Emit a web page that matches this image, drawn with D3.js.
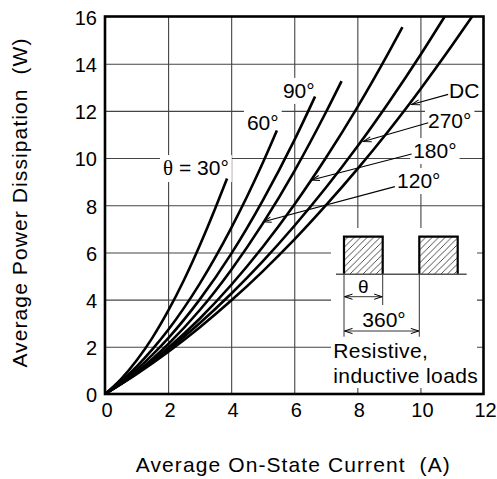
<!DOCTYPE html>
<html>
<head>
<meta charset="utf-8">
<script src="https://cdn.jsdelivr.net/npm/d3@7"></script>
<style>
  body { margin: 0; background: #fff; }
  svg { display: block; }
  text { font-family: "Liberation Sans", Arial, sans-serif; fill: #000; white-space: pre; }
</style>
</head>
<body>
<svg id="chart" width="497" height="479"></svg>
<script>
// tick labels
const currentTicks = [0, 2, 4, 6, 8, 10, 12];
const powerTicks = [0, 2, 4, 6, 8, 10, 12, 14, 16];

// conduction angles, left to right
const angleNames = ["30", "60", "90", "120", "180", "270", "DC"];

// [average current A, power W]
const curve30 = [[0, 0], [0.5, 0.62], [1, 1.42], [1.5, 2.38], [2, 3.52], [2.5, 4.82], [3, 6.28], [3.5, 7.88], [3.87, 9.13]];
const curve60 = [[0, 0], [0.5, 0.53], [1, 1.16], [1.5, 1.89], [2, 2.71], [2.5, 3.64], [3, 4.67], [3.5, 5.8], [4, 7.03], [4.5, 8.36], [5, 9.79], [5.45, 11.17]];
const curve90 = [[0, 0], [0.5, 0.48], [1, 1.03], [1.5, 1.66], [2, 2.36], [3, 4.0], [4, 5.94], [5, 8.2], [6, 10.75], [6.66, 12.61]];
const curve120 = [[0, 0], [0.5, 0.43], [1, 0.92], [2, 2.11], [3, 3.55], [4, 5.26], [5, 7.22], [6, 9.44], [7, 11.93], [7.5, 13.26]];
const curve180 = [[0, 0], [1, 0.88], [2, 1.95], [3, 3.19], [4, 4.62], [5, 6.23], [6, 8.02], [7, 10.0], [8, 12.15], [9, 14.49], [9.43, 15.55]];
const curve270 = [[0, 0], [1, 0.87], [2, 1.87], [3, 3.0], [4, 4.25], [5, 5.62], [6, 7.12], [7, 8.74], [8, 10.49], [9, 12.37], [10, 14.37], [10.77, 16]];
const curveDC = [[0, 0], [1, 0.84], [2, 1.78], [3, 2.82], [4, 3.96], [5, 5.2], [6, 6.54], [7, 7.99], [8, 9.53], [9, 11.17], [10, 12.92], [11, 14.77], [11.64, 16]];

const curves = [curve30, curve60, curve90, curve120, curve180, curve270, curveDC];

const svg = d3.select("#chart");
const plotLeft = 105, plotRight = 483.5, plotTop = 16.5, plotBottom = 394;

const x = d3.scaleLinear().domain([0, 12]).range([plotLeft, plotRight]);
const y = d3.scaleLinear().domain([0, 16]).range([plotBottom, plotTop]);

// grid
svg.append("g")
  .attr("transform", `translate(0,${plotBottom})`)
  .call(d3.axisBottom(x).tickValues(currentTicks.slice(1, -1)).tickSize(-(plotBottom - plotTop)).tickFormat(""))
  .call(g => g.select(".domain").remove())
  .call(g => g.selectAll("line").attr("stroke", "#444").attr("stroke-width", 1.1));

svg.append("g")
  .attr("transform", `translate(${plotLeft},0)`)
  .call(d3.axisLeft(y).tickValues(powerTicks.slice(1, -1)).tickSize(-(plotRight - plotLeft)).tickFormat(""))
  .call(g => g.select(".domain").remove())
  .call(g => g.selectAll("line").attr("stroke", "#444").attr("stroke-width", 1.1));

// tick labels
svg.append("g")
  .attr("transform", `translate(1.5,${plotBottom})`)
  .call(d3.axisBottom(x).tickValues(currentTicks).tickSize(0).tickPadding(8))
  .call(g => g.select(".domain").remove())
  .call(g => g.selectAll("text").attr("font-size", 20).attr("font-family", "Liberation Sans, Arial, sans-serif").attr("dy", "0.72em").attr("y", 8.5));

svg.append("g")
  .attr("transform", `translate(${plotLeft},1.5)`)
  .call(d3.axisLeft(y).tickValues(powerTicks).tickSize(0).tickPadding(8))
  .call(g => g.select(".domain").remove())
  .call(g => g.selectAll("text").attr("font-size", 20).attr("font-family", "Liberation Sans, Arial, sans-serif"));

// white ground for the inset
svg.append("rect")
  .attr("x", 331).attr("y", 228)
  .attr("width", 146).attr("height", 160)
  .attr("fill", "#fff");

const boxG = svg.append("g");
const curveG = svg.append("g");
const textG = svg.append("g");

// curves
const line = d3.line()
  .x(d => x(d[0]))
  .y(d => y(d[1]))
  .curve(d3.curveMonotoneX);

curveG.selectAll("path")
  .data(curves)
  .join("path")
  .attr("d", line)
  .attr("fill", "none")
  .attr("stroke", "#000")
  .attr("stroke-width", 2.6);

// curve labels with their white boxes
const labelSpots = [
  { name: angleNames[0], at: [1.84, 9.28], theta: true },
  { name: angleNames[1], at: [4.5, 11.19] },
  { name: angleNames[2], at: [5.64, 12.55] },
  { name: angleNames[6], at: [10.91, 12.55] },
  { name: angleNames[5], at: [10.24, 11.28] },
  { name: angleNames[4], at: [9.77, 10.0] },
  { name: angleNames[3], at: [9.26, 8.73] }
];

labelSpots.forEach(d => {
  const t = textG.append("text")
    .attr("x", x(d.at[0])).attr("y", y(d.at[1]))
    .attr("font-size", 21);
  if (d.theta) {
    t.append("tspan").attr("font-family", "Liberation Serif, DejaVu Serif, serif").text("\u03b8");
    t.append("tspan").text(" = ");
  }
  t.append("tspan").text(d.name === "DC" ? "DC" : d.name + "\u00b0");
  const b = t.node().getBBox();
  boxG.append("rect")
    .attr("x", b.x - 3).attr("y", b.y - 1)
    .attr("width", b.width + 6).attr("height", b.height + 3)
    .attr("fill", "#fff");
});

// arrow markers
const defs = svg.append("defs");
defs.append("marker")
  .attr("id", "head")
  .attr("viewBox", "-10 -5 12 10")
  .attr("refX", 0).attr("refY", 0)
  .attr("markerWidth", 12).attr("markerHeight", 10)
  .attr("markerUnits", "userSpaceOnUse")
  .attr("orient", "auto-start-reverse")
  .append("path")
  .attr("d", "M-8,-2.6L0,0L-8,2.6")
  .attr("fill", "none")
  .attr("stroke", "#000")
  .attr("stroke-width", 1);

// leader lines from labels to curves
const leaders = [
  [[10.88, 12.7], [9.72, 12.27]],
  [[10.25, 11.5], [8.19, 10.7]],
  [[9.72, 10.17], [6.55, 9.07]],
  [[9.19, 8.79], [5.02, 7.3]]
];
textG.selectAll("line")
  .data(leaders)
  .join("line")
  .attr("x1", d => x(d[0][0])).attr("y1", d => y(d[0][1]))
  .attr("x2", d => x(d[1][0])).attr("y2", d => y(d[1][1]))
  .attr("stroke", "#000")
  .attr("stroke-width", 1.1)
  .attr("marker-end", "url(#head)");

// inset: pulse train
const hatch = defs.append("pattern")
  .attr("id", "hatch")
  .attr("patternUnits", "userSpaceOnUse")
  .attr("width", 6.5).attr("height", 6.5);
hatch.append("path")
  .attr("d", "M-1,1L1,-1M0,6.5L6.5,0M5.5,7.5L7.5,5.5")
  .attr("stroke", "#222")
  .attr("stroke-width", 0.8);

const inset = svg.append("g");
const pulseTop = 236.7, pulseBase = 274.3;
[[344, 382.7], [419.3, 457.7]].forEach(p => {
  inset.append("rect")
    .attr("x", p[0]).attr("y", pulseTop)
    .attr("width", p[1] - p[0]).attr("height", pulseBase - pulseTop)
    .attr("fill", "url(#hatch)");
  inset.append("path")
    .attr("d", `M${p[0]},${pulseBase}V${pulseTop}H${p[1]}V${pulseBase}`)
    .attr("fill", "none")
    .attr("stroke", "#000")
    .attr("stroke-width", 2.2);
});
inset.append("line")
  .attr("x1", 336).attr("x2", 466.7)
  .attr("y1", pulseBase).attr("y2", pulseBase)
  .attr("stroke", "#555").attr("stroke-width", 1.6);

// dimension lines
const dim = inset.append("g").attr("stroke", "#333").attr("stroke-width", 1);
dim.append("line").attr("x1", 344).attr("x2", 344).attr("y1", pulseBase).attr("y2", 336.7);
dim.append("line").attr("x1", 382.7).attr("x2", 382.7).attr("y1", pulseBase).attr("y2", 305);
dim.append("line").attr("x1", 419.3).attr("x2", 419.3).attr("y1", pulseBase).attr("y2", 336.7);
dim.append("line").attr("x1", 344.5).attr("x2", 382.2).attr("y1", 296.7).attr("y2", 296.7)
  .attr("marker-start", "url(#head)").attr("marker-end", "url(#head)");
dim.append("line").attr("x1", 344.5).attr("x2", 418.8).attr("y1", 331).attr("y2", 331)
  .attr("marker-start", "url(#head)").attr("marker-end", "url(#head)");

inset.append("text")
  .attr("x", 363.3).attr("y", 293)
  .attr("text-anchor", "middle")
  .attr("font-family", "Liberation Serif, DejaVu Serif, serif")
  .attr("font-size", 19)
  .text("\u03b8");
inset.append("text")
  .attr("x", 384).attr("y", 326.7)
  .attr("text-anchor", "middle")
  .attr("font-size", 21)
  .text("360\u00b0");
inset.append("text")
  .attr("x", 333.3).attr("y", 358.3)
  .attr("font-size", 21)
  .attr("letter-spacing", 0.4)
  .text("Resistive,");
inset.append("text")
  .attr("x", 333.3).attr("y", 383.3)
  .attr("font-size", 21)
  .attr("letter-spacing", 0.4)
  .text("inductive loads");

// frame
svg.append("rect")
  .attr("x", plotLeft).attr("y", plotTop)
  .attr("width", plotRight - plotLeft).attr("height", plotBottom - plotTop)
  .attr("fill", "none")
  .attr("stroke", "#000")
  .attr("stroke-width", 2.6);

// axis titles
svg.append("text")
  .attr("x", 293.3).attr("y", 471.7)
  .attr("text-anchor", "middle")
  .attr("font-size", 21)
  .attr("letter-spacing", 1.1)
  .text("Average On-State Current  (A)");

svg.append("text")
  .attr("transform", "translate(27,202.5) rotate(-90)")
  .attr("text-anchor", "middle")
  .attr("font-size", 21)
  .attr("letter-spacing", 1.1)
  .text("Average Power Dissipation  (W)");
</script>
</body>
</html>
